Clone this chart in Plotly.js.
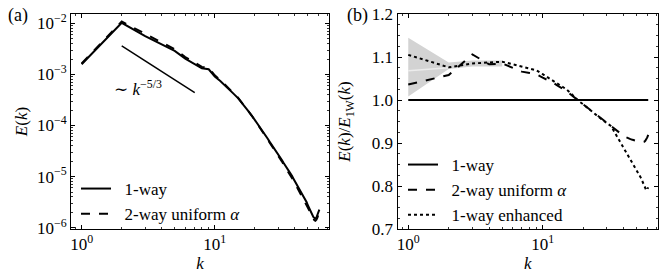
<!DOCTYPE html>
<html><head><meta charset="utf-8">
<script src="https://cdn.plot.ly/plotly-3.0.1.min.js"></script>
<style>html,body{margin:0;padding:0;background:#fff}#plot{width:665px;height:273px}</style>
</head><body><div id="plot"></div>
<script>
// wavenumbers
const k = [1,2,3,4,5,6,7,8,9,10,11,12,13,14,15,16,17,18,19,20,21,22,23,24,25,26,27,28,29,30,31,32,33,34,35,36,37,38,39,40,41,42,43,44,45,46,47,48,49,50,51,52,53,54,55,56,57,58,59,60,61];
// panel (a): 1-way spectrum E(k)
const E1way = [1.58e-3,1.023e-2,5.62e-3,3.89e-3,2.88e-3,2.04e-3,1.62e-3,1.32e-3,1.26e-3,9.12e-4,
  7.41e-4,6.03e-4,4.90e-4,4.07e-4,3.39e-4,2.79e-4,2.29e-4,1.86e-4,1.55e-4,1.29e-4,
  1.08e-4,9.12e-5,7.59e-5,6.46e-5,5.50e-5,4.68e-5,4.07e-5,3.51e-5,3.09e-5,2.69e-5,
  2.34e-5,2.09e-5,1.82e-5,1.62e-5,1.48e-5,1.32e-5,1.17e-5,1.035e-5,9.12e-6,8.13e-6,
  7.24e-6,6.46e-6,5.75e-6,5.25e-6,4.68e-6,4.17e-6,3.80e-6,3.47e-6,3.16e-6,2.75e-6,
  2.45e-6,2.24e-6,2.00e-6,1.80e-6,1.62e-6,1.55e-6,1.51e-6,1.58e-6,1.74e-6,1.95e-6,2.25e-6];
// panel (b): ratios E(k)/E_1W(k)
const ratio2wayUniform = [1.036,1.058,1.106,1.083,1.085,1.074,1.066,1.063,1.060,1.052,
  1.046,1.040,1.033,1.027,1.021,1.014,1.007,1.000,0.995,0.990,
  0.985,0.980,0.975,0.970,0.965,0.961,0.957,0.953,0.949,0.946,
  0.943,0.940,0.936,0.932,0.929,0.926,0.923,0.920,0.918,0.916,
  0.914,0.913,0.911,0.910,0.909,0.908,0.907,0.906,0.905,0.904,
  0.903,0.903,0.902,0.902,0.902,0.902,0.903,0.905,0.908,0.913,0.919];
const ratio1wayEnhanced = [1.105,1.076,1.085,1.088,1.089,1.083,1.078,1.074,1.069,1.060,
  1.052,1.045,1.038,1.031,1.025,1.017,1.009,1.001,0.995,0.990,
  0.985,0.980,0.975,0.970,0.965,0.961,0.957,0.953,0.949,0.946,
  0.943,0.940,0.934,0.927,0.920,0.913,0.907,0.900,0.894,0.888,
  0.882,0.877,0.871,0.866,0.862,0.857,0.852,0.848,0.843,0.838,
  0.833,0.828,0.823,0.818,0.812,0.806,0.800,0.794,0.790,0.792,0.797];
const ratio1wayK = [1, 61];
const ratio1way = [1.0, 1.0];
// shaded band (panel b)
const bandK = [1,2,3,4,5];
const bandUpper = [1.145,1.087,1.092,1.092,1.092];
const bandLower = [1.008,1.072,1.078,1.078,1.078];
const bandMeanK = [1,2];
const bandMean = [1.068,1.075];
// -5/3 reference line
const slopeK = [2, 7.07];
const slopeE = [3.6e-3, 4.4e-4];
// ticks
const xTickVals = [1, 10];
const xTickText = ['10<sup>0</sup>','10<sup>1</sup>'];
const xMinorVals = [0.9,2,3,4,5,6,7,8,9,20,30,40,50,60,70];
const yaTickVals = [1e-6,1e-5,1e-4,1e-3,1e-2];
const yaTickText = ['10<sup>−6</sup>','10<sup>−5</sup>','10<sup>−4</sup>','10<sup>−3</sup>','10<sup>−2</sup>'];
const yaMinorVals = [2e-6,3e-6,4e-6,5e-6,6e-6,7e-6,8e-6,9e-6,2e-5,3e-5,4e-5,5e-5,6e-5,7e-5,8e-5,9e-5,
  2e-4,3e-4,4e-4,5e-4,6e-4,7e-4,8e-4,9e-4,2e-3,3e-3,4e-3,5e-3,6e-3,7e-3,8e-3,9e-3,2e-2,3e-2,4e-2,5e-2,6e-2,7e-2,8e-2,9e-2];
const ybTickVals = [0.7,0.8,0.9,1.0,1.1,1.2];
const ybTickText = ['0.7','0.8','0.9','1.0','1.1','1.2'];
const ybMinorVals = [0.725,0.75,0.775,0.825,0.85,0.875,0.925,0.95,0.975,1.025,1.05,1.075,1.125,1.15,1.175];

const E2way = E1way.map((v,i)=>v*ratio2wayUniform[i]);

const FONT = 'Liberation Serif, DejaVu Serif, serif';
const W = 665, H = 273;
const px = x => x / W;
const py = y => 1 - y / H;
const SP = '\u00a0\u00a0';

const traces = [
  {x:k, y:E1way, xaxis:'x', yaxis:'y', mode:'lines', name:SP+'1-way', line:{color:'#000', width:2}, legend:'legend'},
  {x:k, y:E2way, xaxis:'x', yaxis:'y', mode:'lines', name:SP+'2-way uniform <i>α</i>', line:{color:'#000', width:2, dash:'dash'}, legend:'legend'},
  {x:slopeK, y:slopeE, xaxis:'x', yaxis:'y', mode:'lines', showlegend:false, line:{color:'#000', width:1.5}},
  {x:bandK, y:bandLower, xaxis:'x2', yaxis:'y2', mode:'lines', showlegend:false, line:{width:0, color:'#d3d3d3'}},
  {x:bandK, y:bandUpper, xaxis:'x2', yaxis:'y2', mode:'lines', showlegend:false, fill:'tonexty', fillcolor:'#d3d3d3', line:{width:0, color:'#d3d3d3'}},
  {x:bandMeanK, y:bandMean, xaxis:'x2', yaxis:'y2', mode:'lines', showlegend:false, line:{width:1.5, color:'#ececec'}},
  {x:ratio1wayK, y:ratio1way, xaxis:'x2', yaxis:'y2', mode:'lines', name:SP+'1-way', line:{color:'#000', width:2}, legend:'legend2'},
  {x:k, y:ratio2wayUniform, xaxis:'x2', yaxis:'y2', mode:'lines', name:SP+'2-way uniform <i>α</i>', line:{color:'#000', width:2, dash:'dash'}, legend:'legend2'},
  {x:k, y:ratio1wayEnhanced, xaxis:'x2', yaxis:'y2', mode:'lines', name:SP+'1-way enhanced', line:{color:'#000', width:2, dash:'dot'}, legend:'legend2'}
];

const axCommon = {
  showline:true, linecolor:'#000', linewidth:1, mirror:'ticks',
  ticks:'inside', ticklen:4, tickwidth:1, tickcolor:'#000',
  showgrid:false, zeroline:false,
  tickfont:{family:FONT, size:17, color:'#000'}
};
const minorStyle = {ticks:'inside', ticklen:2, tickwidth:0.8, tickcolor:'#000', showgrid:false};
const xDomA = [px(71), px(329)];
const xDomB = [px(397.5), px(658)];
const yDom = [py(229), py(14)];

const layout = {
  width:W, height:H, margin:{l:0,r:0,t:0,b:0},
  paper_bgcolor:'#fff', plot_bgcolor:'#fff',
  font:{family:FONT, size:17, color:'#000'},
  xaxis: Object.assign({}, axCommon, {domain:xDomA, anchor:'y', type:'log', range:[-0.08,1.858],
    tickvals:xTickVals, ticktext:xTickText,
    minor:Object.assign({tickvals:xMinorVals}, minorStyle),
    title:{text:'<i>k</i>', font:{family:FONT, size:17}, standoff:2}}),
  yaxis: Object.assign({}, axCommon, {domain:yDom, anchor:'x', type:'log', range:[-6.025,-1.818],
    tickvals:yaTickVals, ticktext:yaTickText,
    minor:Object.assign({tickvals:yaMinorVals}, minorStyle),
    title:{text:'<i>E</i>(<i>k</i>)', font:{family:FONT, size:17}, standoff:4}}),
  xaxis2: Object.assign({}, axCommon, {domain:xDomB, anchor:'y2', type:'log', range:[-0.08,1.858],
    tickvals:xTickVals, ticktext:xTickText,
    minor:Object.assign({tickvals:xMinorVals}, minorStyle),
    title:{text:'<i>k</i>', font:{family:FONT, size:17}, standoff:2}}),
  yaxis2: Object.assign({}, axCommon, {domain:yDom, anchor:'x2', range:[0.7,1.2],
    tickvals:ybTickVals, ticktext:ybTickText,
    minor:Object.assign({tickvals:ybMinorVals}, minorStyle),
    title:{text:'<i>E</i>(<i>k</i>)/<i>E</i><sub>1W</sub>(<i>k</i>)', font:{family:FONT, size:17}, standoff:16}}),
  legend:{x:px(76), y:py(171), xanchor:'left', yanchor:'top', bgcolor:'rgba(0,0,0,0)', borderwidth:0,
    font:{family:FONT, size:17}, tracegroupgap:0, traceorder:'normal'},
  legend2:{x:px(403), y:py(147), xanchor:'left', yanchor:'top', bgcolor:'rgba(0,0,0,0)', borderwidth:0,
    font:{family:FONT, size:17}, tracegroupgap:0, traceorder:'normal'},
  annotations:[
    {xref:'paper', yref:'paper', x:px(138), y:py(88), xanchor:'center', yanchor:'middle', text:'∼ <i>k</i><sup>−5/3</sup>', showarrow:false, font:{family:FONT, size:17}},
    {xref:'paper', yref:'paper', x:px(18), y:py(15), xanchor:'center', yanchor:'middle', text:'(a)', showarrow:false, font:{family:FONT, size:18}},
    {xref:'paper', yref:'paper', x:px(357), y:py(15), xanchor:'center', yanchor:'middle', text:'(b)', showarrow:false, font:{family:FONT, size:18}}
  ]
};

Plotly.newPlot('plot', traces, layout, {staticPlot:true, displayModeBar:false});
</script>
</body></html>
